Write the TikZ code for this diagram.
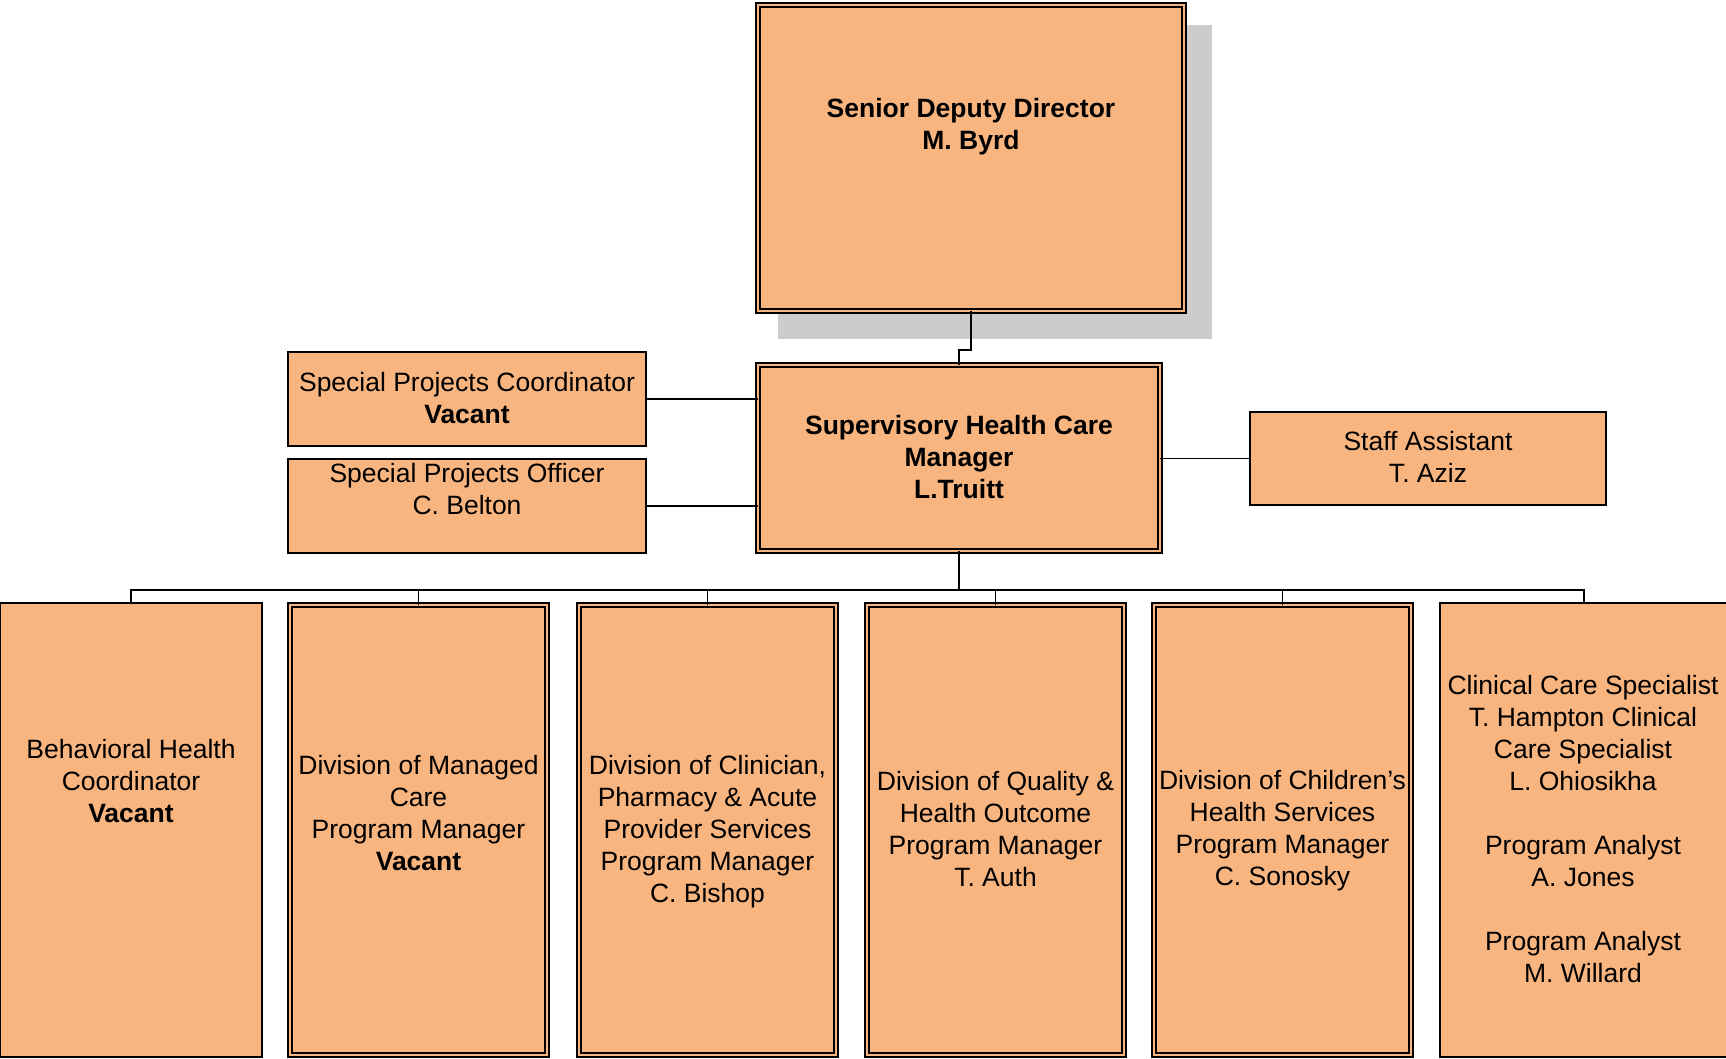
\documentclass[tikz,border=0pt]{standalone}
\usepackage{fontspec}
\setmainfont{Liberation Sans}
\definecolor{boxfill}{RGB}{248,181,127}
\definecolor{shadowgray}{RGB}{204,204,204}
\begin{document}
\begin{tikzpicture}[x=0.5pt,y=-0.5pt,
  sbox/.style={draw=black, fill=boxfill, line width=0.8pt, inner sep=0pt, outer sep=0pt, anchor=north west},
  dbox/.style={draw=black, fill=boxfill, line width=0.8pt, double=boxfill, double distance=1.4pt, inner sep=0pt, outer sep=0pt, anchor=north west},
  txt/.style={align=center, inner sep=0pt, font=\fontsize{13.25pt}{16pt}\selectfont},
  conn/.style={draw=black, line width=0.85pt}
]
\useasboundingbox (0,0) rectangle (1726,1059);

% shadow of top box
\fill[shadowgray] (778,25) rectangle (1212,339);

% boxes
\node[dbox, minimum width=213pt, minimum height=153pt] (top) at (758,5) {};
\node[dbox, minimum width=201pt, minimum height=93pt] (sup) at (758,365) {};
\node[sbox, minimum width=179pt, minimum height=47pt] (spc) at (288,352) {};
\node[sbox, minimum width=179pt, minimum height=47pt] (spo) at (288,459) {};
\node[sbox, minimum width=178pt, minimum height=46.5pt] (staff) at (1250,412) {};

\node[sbox, minimum width=131pt, minimum height=227pt] (b1) at (0,603) {};
\node[dbox, minimum width=128.5pt, minimum height=225pt] (b2) at (290,605) {};
\node[dbox, minimum width=128.5pt, minimum height=225pt] (b3) at (579,605) {};
\node[dbox, minimum width=128.5pt, minimum height=225pt] (b4) at (867,605) {};
\node[dbox, minimum width=128.5pt, minimum height=225pt] (b5) at (1154,605) {};
\node[sbox, minimum width=144pt, minimum height=227pt] (b6) at (1440,603) {};

% connectors
\coordinate (bus) at (959,590);
\draw[conn] (top.south) -- ++(0,39) -| (sup.north);
\draw[conn] (spc.east) -- (spc.east -| sup.west);
\draw[conn] (spo.east) -- (spo.east -| sup.west);
\draw[conn] (sup.east |- staff.west) -- (staff.west);
\draw[conn] (sup.south) -- (bus);
\draw[conn] (b1.north) -- (b1.north |- bus) -| (b6.north);
\draw[conn] (b2.north) -- (b2.north |- bus);
\draw[conn] (b3.north) -- (b3.north |- bus);
\draw[conn] (b4.north) -- (b4.north |- bus);
\draw[conn] (b5.north) -- (b5.north |- bus);

% texts
\node[txt, font=\fontsize{13.25pt}{16pt}\selectfont\bfseries] (ttop) at (971,127) {Senior Deputy Director\\M. Byrd};
\node[txt, font=\fontsize{13.25pt}{16pt}\selectfont\bfseries] (tsup) at (959,457) {Supervisory Health Care\\Manager\\L.Truitt};
\node[txt] (tspc) at (467,398) {Special Projects Coordinator\\\textbf{Vacant}};
\node[txt] (tspo) at (467,489) {Special Projects Officer\\C. Belton};
\node[txt] (tstaff) at (1428,457) {Staff Assistant\\T. Aziz};
\node[txt] (tb1) at (131,781) {Behavioral Health\\Coordinator\\\textbf{Vacant}};
\node[txt] (tb2) at (418.5,813) {Division of Managed\\Care\\Program Manager\\\textbf{Vacant}};
\node[txt] (tb3) at (707.5,832) {Division of Clinician,\\Pharmacy \& Acute\\Provider Services\\Program Manager\\C. Bishop};
\node[txt] (tb4) at (995.5,829) {Division of Quality \&\\Health Outcome\\Program Manager\\T. Auth};
\node[txt] (tb5) at (1282.5,831) {Division of Children’s\\Health Services\\Program Manager\\C. Sonosky};
\node[txt] (tb6) at (1583,829.5) {Clinical Care Specialist\\T. Hampton Clinical\\Care Specialist\\L. Ohiosikha\\[16pt]Program Analyst\\A. Jones\\[16pt]Program Analyst\\M. Willard};
\end{tikzpicture}
\end{document}
